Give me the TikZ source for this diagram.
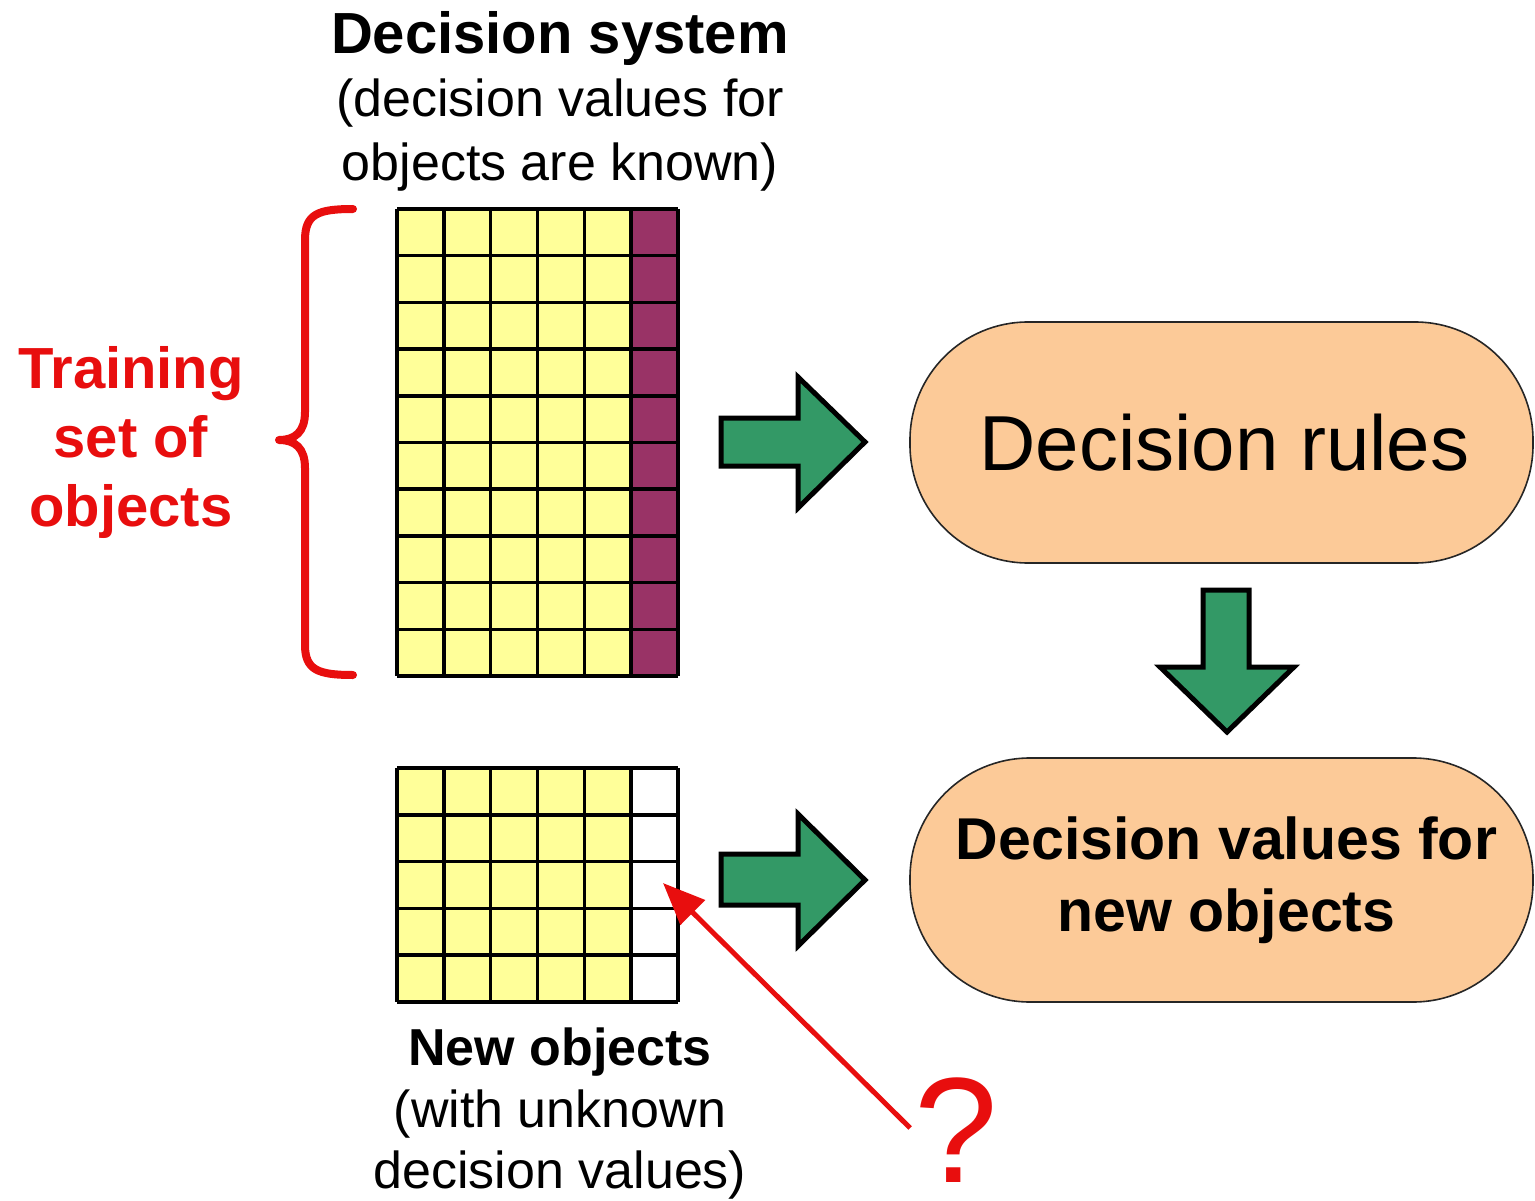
\documentclass[tikz,border=0pt]{standalone}
\usepackage{fontspec}
\setmainfont{Liberation Sans}
\usetikzlibrary{arrows.meta}
\definecolor{cellyellow}{RGB}{255,255,153}
\definecolor{cellpurple}{RGB}{153,51,102}
\definecolor{peach}{RGB}{252,202,152}
\definecolor{arrowgreen}{RGB}{51,153,102}
\definecolor{mred}{RGB}{232,14,14}
\tikzset{
  gridline/.style={draw=black, line width=3.5pt},
  capsule/.style={draw=black!85, line width=1.6pt, fill=peach, rounded corners=118pt,
    minimum width=623pt, inner sep=0pt, align=center},
  blockarrow/.style={fill=arrowgreen, draw=black, line width=5pt, line join=miter},
  bracestyle/.style={draw=mred, line width=8pt, line cap=round, line join=round},
  redarrow/.style={draw=mred, line width=5pt, -{Triangle[length=42pt,width=34pt]}},
  txt/.style={inner sep=0pt, align=center}
}
\begin{document}
\begin{tikzpicture}[x=1pt,y=-1pt]
\useasboundingbox (0,0) rectangle (1535,1201);

% ---- titles
\node[txt, font=\fontsize{52}{63.5}\selectfont] (title) at (560,101)
  {{\fontsize{58}{63}\selectfont\bfseries Decision system}\\(decision values for\\objects are known)};

\node[txt, text=mred, font=\fontsize{58}{69}\selectfont\bfseries] (train) at (131,443)
  {Training\\set of\\objects};

\node[txt, font=\fontsize{52}{61.5}\selectfont] (newobj) at (560,1114)
  {{\bfseries New objects}\\(with unknown\\decision values)};

% ---- training grid
\fill[cellyellow] (397,209) rectangle (632,676);
\fill[cellpurple] (632,209) rectangle (678,676);
\foreach \i in {0,...,6} \draw[gridline] ({397+\i*46.833},209) -- ({397+\i*46.833},676);
\foreach \j in {0,...,10} \draw[gridline] (397,{209+\j*46.7}) -- (678,{209+\j*46.7});
\coordinate (traingrid) at (537.5,442.5);

% ---- new objects grid
\fill[cellyellow] (397,768) rectangle (632,1002);
\fill[white] (632,768) rectangle (678,1002);
\foreach \i in {0,...,6} \draw[gridline] ({397+\i*46.833},768) -- ({397+\i*46.833},1002);
\foreach \j in {0,...,5} \draw[gridline] (397,{768+\j*46.8}) -- (678,{768+\j*46.8});
\coordinate (unk) at (663,883);

% ---- brace
\draw[bracestyle] (353,209) .. controls (318,209) and (305,214) .. (305,240)
  -- (305,412) .. controls (305,432) and (295,440) .. (279,440)
  .. controls (295,440) and (305,448) .. (305,468)
  -- (305,645) .. controls (305,670) and (318,675) .. (353,675);

% ---- capsules
\node[capsule, minimum height=241pt, font=\fontsize{78}{90}\selectfont] (rules) at (1221.5,442.5) {\hspace*{6pt}Decision rules};
\node[capsule, minimum height=244pt, rounded corners=120pt, font=\fontsize{59}{72}\selectfont\bfseries] (values) at (1221.5,880) {\hspace*{10pt}Decision values for\\\hspace*{10pt}new objects};

% ---- green block arrows
\draw[blockarrow] (721,418) -- (798,418) -- (798,377) -- (865,442) -- (798,508) -- (798,466) -- (721,466) -- cycle;
\draw[blockarrow] (721,854) -- (798,854) -- (798,814) -- (865,880) -- (798,946) -- (798,905) -- (721,905) -- cycle;
\draw[blockarrow] (1203,590) -- (1249,590) -- (1249,667) -- (1294,667) -- (1227,732) -- (1160,667) -- (1203,667) -- cycle;

% ---- question mark and red arrow
\node[txt, text=mred, font=\fontsize{150}{150}\selectfont] (q) at (956,1130) {?};
\draw[redarrow] ([xshift=-4pt,yshift=2pt]q.west) -- (unk);
\end{tikzpicture}
\end{document}
